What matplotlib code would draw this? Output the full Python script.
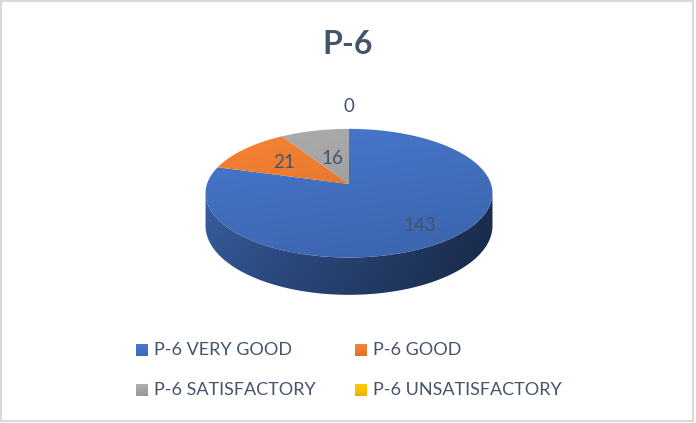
import numpy as np
import matplotlib
matplotlib.use("Agg")
import matplotlib.pyplot as plt
from matplotlib.patches import Polygon, Rectangle
from matplotlib.colors import to_rgb

plt.rcParams["font.family"] = ["Lato", "DejaVu Sans"]

title = "P-6"
categories = ["P-6 VERY GOOD", "P-6 GOOD", "P-6 SATISFACTORY", "P-6 UNSATISFACTORY"]
values = [143, 21, 16, 0]
colors = ["#4472C4", "#ED7D31", "#A5A5A5", "#FFC000"]

TEXT = "#44546A"
W, H = 696, 423

fig = plt.figure(figsize=(W / 100, H / 100), dpi=100)
ax = fig.add_axes([0, 0, 1, 1])
ax.set_xlim(0, W)
ax.set_ylim(H, 0)
ax.axis("off")

# 3D pie geometry in pixel space
CX, CY = 349, 184          # centre of the pie
RX, RY = 142, 63           # horizontal / depth radii
DIST = 7.0                 # camera distance (perspective)
DEPTH = 32                 # thickness of the pie at mid-depth


def proj(theta_deg, r=1.0, h=0.0):
    t = np.radians(theta_deg)
    x = r * np.sin(t)
    z = r * np.cos(t)
    s = DIST / (DIST + z)
    return CX + RX * x * s, CY - RY * z * s + h * s


def tinted(c, fac):
    return np.clip(np.array(to_rgb(c))[None, None, :] * fac[..., None], 0, 1)


total = float(sum(values))
bounds = np.concatenate([[0], np.cumsum(values) / total * 360.0])

# visible part of the side wall: between the left and right silhouette points
grid = np.linspace(0, 360, 3601)
xs = np.array([proj(t)[0] for t in grid])
th_right = grid[np.argmax(xs)]
th_left = grid[np.argmin(xs)]

# side wall gradient (lighter on the left, darker to the right and bottom)
sx0, sx1 = CX - RX - 5, CX + RX + 5
sy0, sy1 = CY - 5, CY + RY * 1.2 + DEPTH * 1.2 + 5
u = np.linspace(0, 1, 300)[None, :]
w = np.linspace(0, 1, 150)[:, None]
side_fac = (0.82 - 0.42 * u) * (1.02 - 0.16 * w)

for v, c, a, b in zip(values, colors, bounds[:-1], bounds[1:]):
    lo, hi = max(a, th_right), min(b, th_left)
    if v == 0 or hi <= lo:
        continue
    ts = np.linspace(lo, hi, max(int((hi - lo) * 2), 4))
    top = [proj(t) for t in ts]
    bot = [proj(t, h=DEPTH) for t in ts[::-1]]
    poly = Polygon(top + bot, closed=True, facecolor="none", edgecolor="none")
    ax.add_patch(poly)
    im = ax.imshow(tinted(c, side_fac), extent=(sx0, sx1, sy1, sy0), origin="upper",
                   aspect="auto", zorder=2, interpolation="bilinear")
    im.set_clip_path(poly)

# top face of each slice with a soft gradient
gx0, gx1, gy0, gy1 = CX - RX - 10, CX + RX + 10, CY - RY - 10, CY + RY * 1.2 + 10
gy = np.linspace(0, 1, 200)[:, None]
gx = np.linspace(0, 1, 300)[None, :]
top_fac = 1.07 - 0.16 * gy - 0.05 * gx
apex = (CX, CY)
for v, c, a, b in zip(values, colors, bounds[:-1], bounds[1:]):
    if v == 0:
        continue
    arc = [proj(t) for t in np.linspace(a, b, max(int((b - a) * 2), 4))]
    poly = Polygon([apex] + arc, closed=True, facecolor="none", edgecolor="none")
    ax.add_patch(poly)
    im = ax.imshow(tinted(c, top_fac), extent=(gx0, gx1, gy1, gy0), origin="upper",
                   aspect="auto", zorder=3, interpolation="bilinear")
    im.set_clip_path(poly)

# data labels
label_r = [0.76, 0.6, 0.45, 1.5]
for v, a, b, r in zip(values, bounds[:-1], bounds[1:], label_r):
    lx, ly = proj((a + b) / 2, r=r)
    ax.text(lx, ly, f"{v}", ha="center", va="center", fontsize=13.5,
            color=TEXT, zorder=5)

# title
ax.text(348, 45, title, ha="center", va="center", fontsize=23,
        fontweight="bold", color=TEXT)

# legend
leg_x = [136, 355]
leg_y = [350, 390]
sq = 12
for i, (lab, c) in enumerate(zip(categories, colors)):
    mx = leg_x[i % 2]
    my = leg_y[i // 2]
    fac = np.repeat(np.linspace(1.06, 0.92, 20)[:, None], 2, axis=1)
    ax.imshow(tinted(c, fac), extent=(mx, mx + sq, my + sq / 2, my - sq / 2),
              origin="upper", aspect="auto", zorder=3)
    ax.text(mx + 18, my, lab, ha="left", va="center", fontsize=13, color=TEXT)

ax.set_xlim(0, W)
ax.set_ylim(H, 0)

# chart border
ax.add_patch(Rectangle((1, 1.5), 692, 420, fill=False, edgecolor="#D9D9D9",
                       linewidth=1.5, zorder=6))

fig.savefig("out.png", dpi=100)
